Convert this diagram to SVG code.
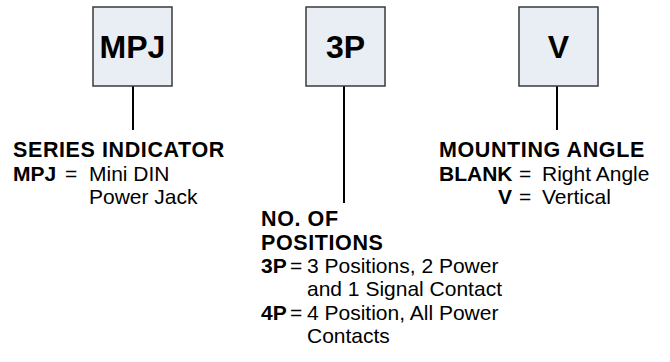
<svg xmlns="http://www.w3.org/2000/svg" width="670" height="362" viewBox="0 0 670 362">
<style>
.box{fill:#e8eef3;stroke:#3a3a3a;stroke-width:1.5}
.bt{font-family:"Liberation Sans",Arial,sans-serif;font-weight:bold;font-size:32px;fill:#000;text-anchor:middle}
.h{font-family:"Liberation Sans",Arial,sans-serif;font-weight:bold;font-size:21.5px;letter-spacing:0.6px;fill:#000}
.b{font-family:"Liberation Sans",Arial,sans-serif;font-weight:bold;font-size:21px;fill:#000}
.r{font-family:"Liberation Sans",Arial,sans-serif;font-size:21px;fill:#000}
.ln{stroke:#000;stroke-width:2;fill:none}
</style>
<g id="connectors">
<line class="ln" x1="133" y1="86" x2="133" y2="130"/>
<line class="ln" x1="344" y1="86" x2="344" y2="203"/>
<line class="ln" x1="557" y1="86" x2="557" y2="130"/>
</g>
<g id="node-mpj">
<rect class="box" x="93" y="7" width="79" height="79"/>
<text class="bt" x="132.5" y="58">MPJ</text>
</g>
<g id="node-3p">
<rect class="box" x="306" y="7" width="79" height="79"/>
<text class="bt" x="345.5" y="58">3P</text>
</g>
<g id="node-v">
<rect class="box" x="519" y="7" width="79" height="79"/>
<text class="bt" x="558.5" y="58">V</text>
</g>
<g id="series-indicator">
<text class="h" x="13" y="157">SERIES INDICATOR</text>
<text class="b" x="13" y="181">MPJ</text>
<text class="r" x="65" y="181">=</text>
<text class="r" x="89" y="181">Mini DIN</text>
<text class="r" x="89" y="204">Power Jack</text>
</g>
<g id="positions">
<text class="h" x="261" y="226">NO. OF</text>
<text class="h" x="261" y="250">POSITIONS</text>
<text class="b" x="261" y="273">3P</text>
<text class="r" x="290" y="273">=</text>
<text class="r" x="307" y="273">3 Positions, 2 Power</text>
<text class="r" x="307" y="296">and 1 Signal Contact</text>
<text class="b" x="261" y="320">4P</text>
<text class="r" x="290" y="320">=</text>
<text class="r" x="307" y="320">4 Position, All Power</text>
<text class="r" x="307" y="343">Contacts</text>
</g>
<g id="mounting-angle">
<text class="h" x="439" y="157">MOUNTING ANGLE</text>
<text class="b" x="439" y="181">BLANK</text>
<text class="r" x="519" y="181">=</text>
<text class="r" x="542" y="181">Right Angle</text>
<text class="b" x="498" y="204">V</text>
<text class="r" x="519" y="204">=</text>
<text class="r" x="542" y="204">Vertical</text>
</g>
</svg>
